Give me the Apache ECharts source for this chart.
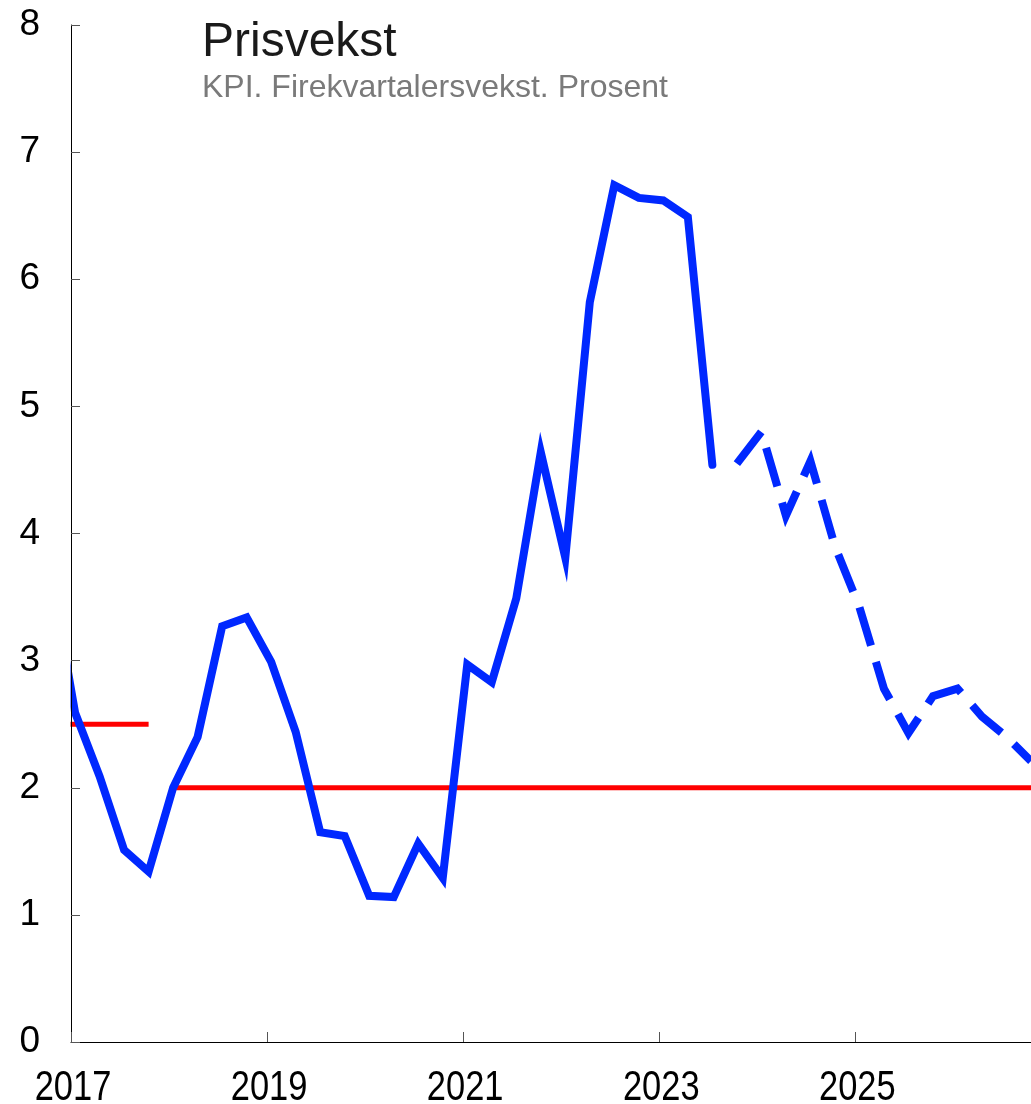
<!DOCTYPE html>
<html>
<head>
<meta charset="utf-8">
<script src="https://cdn.jsdelivr.net/npm/echarts@6/dist/echarts.min.js"></script>
<style>
html,body{margin:0;padding:0;background:#fff;}
#chart{width:1031px;height:1104px;}
</style>
</head>
<body>
<div id="chart"></div>
<script>
// Quarters (actual CPI)
const actualQuarters = ["2016Q4","2017Q1","2017Q2","2017Q3","2017Q4","2018Q1","2018Q2","2018Q3","2018Q4",
  "2019Q1","2019Q2","2019Q3","2019Q4","2020Q1","2020Q2","2020Q3","2020Q4",
  "2021Q1","2021Q2","2021Q3","2021Q4","2022Q1","2022Q2","2022Q3","2022Q4",
  "2023Q1","2023Q2","2023Q3"];
const actualValues = [3.7,2.59,2.09,1.51,1.34,2.0,2.4,3.27,3.34,
  2.99,2.44,1.65,1.62,1.15,1.14,1.56,1.29,
  2.97,2.83,3.49,4.64,3.81,5.82,6.74,6.64,
  6.62,6.49,4.54];
// Projection
const projQuarters = ["2023Q4","2024Q1","2024Q2","2024Q3","2024Q4","2025Q1","2025Q2","2025Q3","2025Q4",
  "2026Q1","2026Q2","2026Q3","2026Q4"];
const projValues = [4.55,4.80,4.14,4.57,3.90,3.42,2.78,2.43,2.72,2.78,2.56,2.40,2.21];
// Inflation target
const targetOldQuarters = ["2016Q4","2017Q4"];
const targetOldValue = 2.5;
const targetNewQuarters = ["2018Q1","2026Q4"];
const targetNewValue = 2.0;
// Axis labels
const yTicks = [0,1,2,3,4,5,6,7,8];
const xLabelYears = [2017,2019,2021,2023,2025];
const titleText = "Prisvekst";
const subtitleText = "KPI. Firekvartalersvekst. Prosent";

// quarter -> fractional year (mid of first month of quarter)
function qx(q){
  const y = parseInt(q.slice(0,4),10);
  const n = parseInt(q.slice(5),10);
  return y + (n-1)/4 + 0.5/12;
}
const pairs = (qs, vs) => qs.map((q,i)=>[qx(q), vs[i]]);
const flat = (qs, v) => qs.map(q=>[qx(q), v]);

const xMin = xLabelYears[0];
const xMax = qx(projQuarters[projQuarters.length-1]);
const GRID = {left:71, right:0, top:25, bottom:62};

const chart = echarts.init(document.getElementById('chart'), null, {renderer:'canvas'});
chart.setOption({
  animation:false,
  backgroundColor:'#fff',
  title:{
    text:titleText, subtext:subtitleText,
    left:197, top:14, itemGap:5, z:20,
    textStyle:{fontFamily:'Liberation Sans, Arial, sans-serif', fontSize:48, fontWeight:'normal', color:'#1a1a1a'},
    subtextStyle:{fontFamily:'Liberation Sans, Arial, sans-serif', fontSize:32, color:'#7a7a7a'}
  },
  grid:{left:GRID.left, right:GRID.right, top:GRID.top, bottom:GRID.bottom, containLabel:false},
  xAxis:{
    type:'value', min:xMin, max:xMax, interval:2, z:10,
    axisLine:{show:true, lineStyle:{color:'#000', width:1}},
    axisTick:{show:true, inside:true, length:10, lineStyle:{color:'#555', width:1}},
    splitLine:{show:false},
    axisLabel:{show:false}
  },
  yAxis:{
    type:'value', min:yTicks[0], max:yTicks[yTicks.length-1], interval:1, z:10,
    axisLine:{show:true, lineStyle:{color:'#000', width:1}},
    axisTick:{show:true, inside:true, length:9, lineStyle:{color:'#555', width:1}},
    splitLine:{show:false},
    axisLabel:{margin:31, color:'#000', fontSize:37, fontFamily:'Liberation Sans, Arial, sans-serif'}
  },
  series:[
    {type:'line', data:flat(targetOldQuarters, targetOldValue), showSymbol:false, clip:true,
     lineStyle:{color:'#ff0000', width:5, cap:'butt'}, z:2},
    {type:'line', data:flat(targetNewQuarters, targetNewValue), showSymbol:false, clip:true,
     lineStyle:{color:'#ff0000', width:5, cap:'butt'}, z:2},
    {type:'line', data:pairs(actualQuarters, actualValues), showSymbol:false, clip:true,
     lineStyle:{color:'#0028ff', width:8, cap:'round', join:'miter'}, z:3},
    {type:'line', data:pairs(projQuarters, projValues), showSymbol:false, clip:true,
     lineStyle:{color:'#0028ff', width:8, type:[40,17], cap:'butt', join:'miter'}, z:3}
  ]
});

// x-axis labels in a narrow face (horizontally condensed), placed via the axis scale
const y0 = chart.convertToPixel({yAxisIndex:0}, yTicks[0]);
const elements = [
  // mask anything drawn left of the y axis (strict clipping at the plot edge)
  {type:'rect', shape:{x:0, y:0, width:GRID.left - 0.5, height:y0 + 6}, style:{fill:'#fff'}, z:5, silent:true}
];
xLabelYears.forEach(yr => {
  const px = chart.convertToPixel({xAxisIndex:0}, yr);
  elements.push({
    type:'text', x:px + 2, y:y0 + 25, scaleX:0.82, z:12,
    style:{text:String(yr), fill:'#000', font:'42px "Liberation Sans", Arial, sans-serif',
           textAlign:'center', textVerticalAlign:'top'}
  });
});
chart.setOption({graphic:{elements}});
</script>
</body>
</html>
